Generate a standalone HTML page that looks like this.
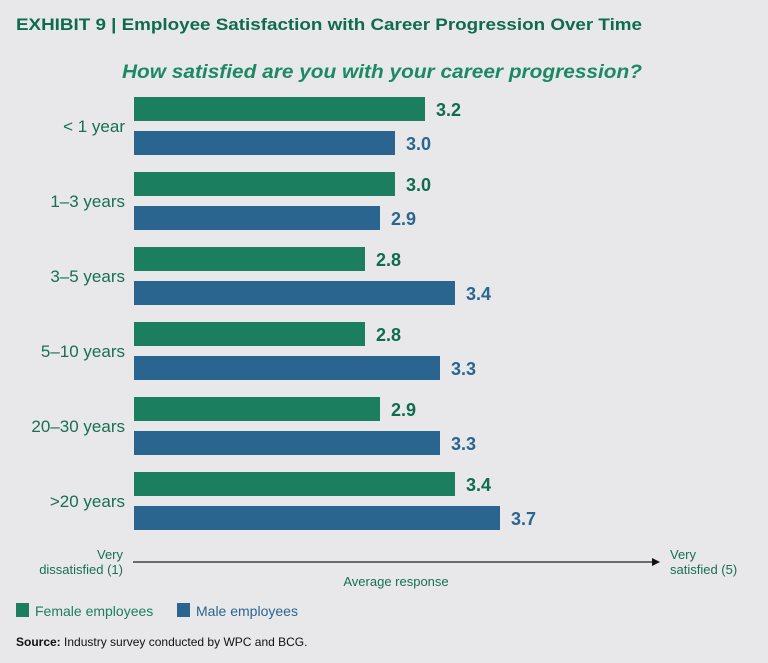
<!DOCTYPE html>
<html><head><meta charset="utf-8"><style>
html,body{margin:0;padding:0;background:#e8e8ea;}
svg{display:block;font-family:"Liberation Sans",sans-serif;}
</style></head><body>
<svg width="768" height="663" viewBox="0 0 768 663">
<rect width="768" height="663" fill="#e8e8ea"/>
<text x="16" y="30" font-size="17" font-weight="bold" fill="#0e6b4d" textLength="626" lengthAdjust="spacingAndGlyphs">EXHIBIT 9 | Employee Satisfaction with Career Progression Over Time</text>
<text x="122" y="78" font-size="19" font-style="italic" font-weight="bold" fill="#1b8a63" textLength="520" lengthAdjust="spacingAndGlyphs">How satisfied are you with your career progression?</text>
<g id="bars"></g>
<line x1="133" y1="562" x2="652" y2="562" stroke="#222" stroke-width="1.3"/>
<polygon points="652,558 660,562 652,566" fill="#111"/>
<text x="123" y="559" font-size="13" fill="#17704f" text-anchor="end">Very</text>
<text x="123" y="574" font-size="13" fill="#17704f" text-anchor="end">dissatisfied (1)</text>
<text x="670" y="559" font-size="13" fill="#17704f">Very</text>
<text x="670" y="574" font-size="13" fill="#17704f">satisfied (5)</text>
<text x="396" y="586" font-size="13" fill="#17704f" text-anchor="middle">Average response</text>
<rect x="16" y="603" width="13" height="14" fill="#1b7f5f"/>
<text x="35" y="616" font-size="14" fill="#1b7f5f">Female employees</text>
<rect x="177" y="603" width="13" height="14" fill="#2a6590"/>
<text x="196" y="616" font-size="14" fill="#2a6590">Male employees</text>
<text x="16" y="646" font-size="12" fill="#111"><tspan font-weight="bold">Source:</tspan> Industry survey conducted by WPC and BCG.</text>
</svg>
<script>
const categories = ["< 1 year","1\u20133 years","3\u20135 years","5\u201310 years","20\u201330 years",">20 years"];
const femaleValues = [3.2,3.0,2.8,2.8,2.9,3.4];
const maleValues = [3.0,2.9,3.4,3.3,3.3,3.7];
const NS="http://www.w3.org/2000/svg";
const g=document.getElementById('bars');
function xScale(v){return 134+(v-1.26)*150;}
function yGroup(i){return 97+i*75;}
function mk(t,a){const e=document.createElementNS(NS,t);for(const k in a)e.setAttribute(k,a[k]);g.appendChild(e);return e;}
categories.forEach((c,i)=>{
  const y=yGroup(i);
  const lab=mk('text',{x:125,y:y+35,'font-size':17,fill:'#17704f','text-anchor':'end'});
  lab.textContent=c;
  
  
  [[femaleValues[i],'#1b7f5f','#0e6b4d',0,'female'],[maleValues[i],'#2a6590','#2a6590',34,'male']].forEach(([v,col,tc,off,nm])=>{
    const b=mk('rect',{x:134,y:y+off,width:xScale(v)-134,height:24,fill:col});
    
    
    const t=mk('text',{x:xScale(v)+11,y:y+off+19,'font-size':18,'font-weight':'bold',fill:tc});
    t.textContent=v.toFixed(1);
    
    
  });
});
</script>
</body></html>
